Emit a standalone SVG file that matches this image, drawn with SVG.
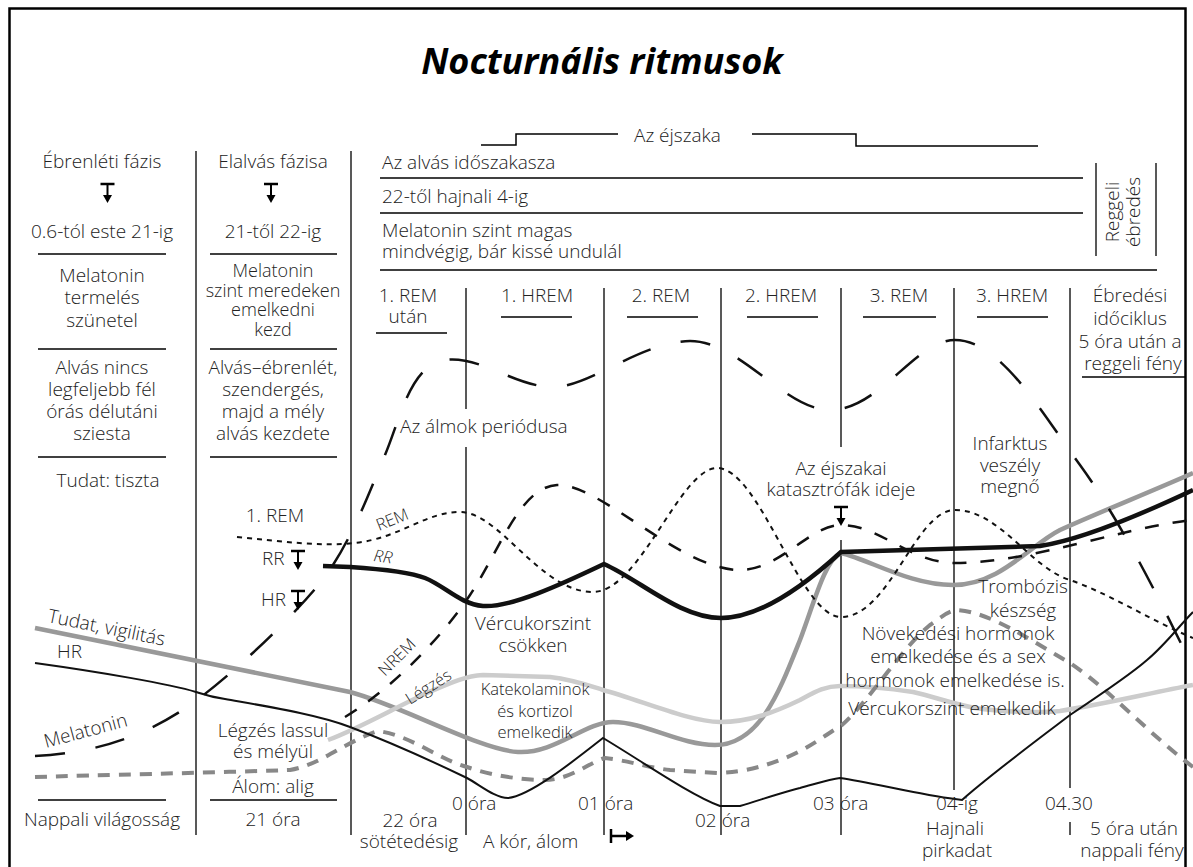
<svg xmlns="http://www.w3.org/2000/svg" xmlns:xlink="http://www.w3.org/1999/xlink" width="1193" height="867" viewBox="0 0 1193 867">
<defs>
<style>
text{font-family:"Open Sans","DejaVu Sans",sans-serif;font-size:19px;font-weight:300;fill:#222}
.c{text-anchor:middle}
.s{font-size:16.5px}
.t{font-size:18px}
.ln{stroke:#000;stroke-width:1.5;fill:none}
.vl{stroke:#222;stroke-width:1.5;fill:none}
.crv{fill:none;stroke-linecap:butt}
</style>
<g id="tarrow">
<line x1="-7" y1="0" x2="7" y2="0" stroke="#000" stroke-width="2.5"/>
<line x1="0" y1="0" x2="0" y2="12" stroke="#000" stroke-width="2"/>
<path d="M-4.5,11 L4.5,11 L0,19 Z" fill="#000"/>
</g>
</defs>
<rect x="0" y="0" width="1193" height="867" fill="#fff"/>
<rect x="9.5" y="8.5" width="1176" height="900" fill="none" stroke="#000" stroke-width="2.5"/>
<text x="602" y="74" class="c" style="font-size:36px;font-weight:bold;font-style:italic;fill:#000">Nocturnális ritmusok</text>

<g id="frame-lines">
<line class="vl" x1="196" y1="151" x2="196" y2="835"/>
<line class="vl" x1="351" y1="151" x2="351" y2="835"/>
<line class="vl" x1="466" y1="288" x2="466" y2="409"/>
<line class="vl" x1="466" y1="447" x2="466" y2="835"/>
<line class="vl" x1="604" y1="288" x2="604" y2="835"/>
<line class="vl" x1="721" y1="288" x2="721" y2="835"/>
<line class="vl" x1="841" y1="288" x2="841" y2="447"/>
<line class="vl" x1="841" y1="540" x2="841" y2="835"/>
<line class="vl" x1="954" y1="288" x2="954" y2="790"/>
<line class="vl" x1="1070" y1="288" x2="1070" y2="788"/>
<line class="vl" x1="1070" y1="822" x2="1070" y2="835"/>
<line class="vl" x1="1096" y1="163" x2="1096" y2="256"/>
<line class="vl" x1="1156" y1="163" x2="1156" y2="256"/>
<line class="ln" x1="380" y1="178" x2="1083" y2="178"/>
<line class="ln" x1="380" y1="213" x2="1083" y2="213"/>
<line class="ln" x1="380" y1="270" x2="1157" y2="270"/>
<path class="ln" d="M481,145 H516 V134 H618 M752,134 H856 V146 H1038"/>
<line class="ln" x1="38" y1="254" x2="166" y2="254"/>
<line class="ln" x1="210" y1="254" x2="337" y2="254"/>
<line class="ln" x1="38" y1="349" x2="166" y2="349"/>
<line class="ln" x1="210" y1="349" x2="337" y2="349"/>
<line class="ln" x1="38" y1="457" x2="166" y2="457"/>
<line class="ln" x1="210" y1="457" x2="337" y2="457"/>
<line class="ln" x1="38" y1="800" x2="166" y2="800"/>
<line class="ln" x1="210" y1="800" x2="337" y2="800"/>
<line class="ln" x1="376" y1="333" x2="447" y2="333"/>
<line class="ln" x1="501" y1="317" x2="572" y2="317"/>
<line class="ln" x1="627" y1="317" x2="698" y2="317"/>
<line class="ln" x1="747" y1="317" x2="818" y2="317"/>
<line class="ln" x1="863" y1="317" x2="936" y2="317"/>
<line class="ln" x1="977" y1="317" x2="1048" y2="317"/>
<line class="ln" x1="1082" y1="377" x2="1185" y2="377"/>
</g>

<g id="connectors">
<path class="crv" stroke="#999" stroke-width="4.5" d="M35,628 L350,692 C400,705 480,750 518,752 C555,754 585,722 613,722 C645,722 680,745 715,745 C760,745 780,690 800,640 C815,600 825,560 841,553 C870,560 910,585 953,585 C1000,585 1030,545 1060,530 C1100,512 1150,492 1193,473"/>
<path class="crv" stroke="#ccc" stroke-width="4.5" d="M328,740 C360,728 400,705 427,693 C450,683 465,676 483,675 L550,677 C575,680 590,686 603,690 C640,700 690,722 720,722 C750,722 775,712 800,700 C815,692 825,686 840,686 C870,686 900,690 913,692 C935,697 950,703 975,708 C1000,712 1040,713 1060,711 C1110,703 1150,693 1193,685"/>
<path class="crv" stroke="#888" stroke-width="4" stroke-dasharray="12 9" d="M35,777 C100,775 200,773 290,770 C320,765 345,742 378,731 C410,735 440,760 467,767 C490,775 520,780 545,780 C570,780 590,762 605,758 C625,760 650,768 670,770 L717,773 C745,772 765,766 785,758 C810,748 825,735 842,725 C870,700 900,650 930,625 C940,618 948,611 957,610 C990,612 1030,640 1070,663 C1110,690 1150,735 1193,767"/>
<path class="crv" stroke="#111" stroke-width="2" d="M35,663 C100,672 170,684 196,692 C205,695 210,697 225,699 C270,707 320,715 350,727 C390,742 440,765 467,778 C480,785 495,798 508,798 C530,796 575,760 603,738 C640,760 690,795 720,806 L740,806 C760,800 790,790 800,788 C815,784 830,779 840,778 C870,782 920,795 955,799 L962,800 C990,775 1040,738 1070,715 C1100,695 1130,675 1147,660 C1165,645 1180,625 1193,612"/>
<path class="crv" stroke="#111" stroke-width="4.5" d="M323,566 L350,567 C380,569 410,572 425,578 C445,586 460,604 483,606 C510,608 560,585 604,564 C640,580 680,618 721,618 C760,618 805,585 841,552 L1040,546 C1080,540 1140,515 1193,490"/>
<path class="crv" stroke="#111" stroke-width="2" stroke-dasharray="5 5" d="M237,537 C280,541 320,547 355,543 C400,538 425,512 460,512 C500,512 540,592 593,592 C640,592 680,468 717,468 C760,468 800,617 841,617 C890,617 915,510 955,510 C1000,510 1030,568 1070,580 C1110,594 1150,620 1193,638"/>
<path class="crv" stroke="#111" stroke-width="2.5" stroke-dasharray="14 14" d="M345,717 C390,690 440,640 470,595 C500,550 520,487 557,485 C600,483 680,570 740,570 C780,570 810,525 841,525 C880,525 910,563 955,563 C1030,563 1120,528 1193,520"/>
<path class="crv" stroke="#111" stroke-width="2.5" stroke-dasharray="30 31" d="M35,756 C100,753 150,733 190,705 C230,677 290,620 320,583 C350,546 370,490 385,455 C400,420 410,365 445,360 C480,355 515,387 553,387 C590,387 640,342 690,341 C740,341 785,410 830,410 C880,410 915,340 955,340 C1000,340 1040,410 1080,465 C1120,520 1160,600 1193,668"/>
</g>

<g id="col1">
<text x="102" y="168" class="c">Ébrenléti fázis</text>
<use xlink:href="#tarrow" x="107.5" y="184"/>
<text x="102" y="238" class="c">0.6-tól este 21-ig</text>
<text x="102" y="282" class="c">Melatonin</text>
<text x="102" y="304" class="c">termelés</text>
<text x="102" y="327" class="c">szünetel</text>
<text x="102" y="374" class="c">Alvás nincs</text>
<text x="102" y="396" class="c">legfeljebb fél</text>
<text x="102" y="418" class="c">órás délutáni</text>
<text x="102" y="440" class="c">sziesta</text>
<text x="108" y="487" class="c">Tudat: tiszta</text>
<text x="102" y="826" class="c">Nappali világosság</text>
</g>

<g id="col2">
<text x="273" y="168" class="c">Elalvás fázisa</text>
<use xlink:href="#tarrow" x="271" y="184"/>
<text x="273" y="238" class="c">21-től 22-ig</text>
<text x="273" y="277" class="c t">Melatonin</text>
<text x="273" y="297" class="c t">szint meredeken</text>
<text x="273" y="316" class="c t">emelkedni</text>
<text x="273" y="336" class="c t">kezd</text>
<text x="273" y="374" class="c">Alvás–ébrenlét,</text>
<text x="273" y="396" class="c">szendergés,</text>
<text x="273" y="418" class="c">majd a mély</text>
<text x="273" y="440" class="c">alvás kezdete</text>
<text x="275" y="522" class="c">1. REM</text>
<text x="262" y="565">RR</text>
<use xlink:href="#tarrow" x="298" y="551"/>
<text x="261" y="606">HR</text>
<use xlink:href="#tarrow" x="298" y="591"/>
<text x="273" y="737" class="c">Légzés lassul</text>
<text x="273" y="758" class="c">és mélyül</text>
<text x="273" y="793" class="c">Álom: alig</text>
<text x="273" y="826" class="c">21 óra</text>
</g>

<g id="top-block">
<text x="634" y="142">Az éjszaka</text>
<text x="382" y="169">Az alvás időszakasza</text>
<text x="382" y="203">22-től hajnali 4-ig</text>
<text x="382" y="237">Melatonin szint magas</text>
<text x="382" y="258">mindvégig, bár kissé undulál</text>
<text transform="translate(1119,212) rotate(-90)" class="c">Reggeli</text>
<text transform="translate(1140,212) rotate(-90)" class="c">ébredés</text>
</g>

<g id="phase-labels">
<text x="408" y="302" class="c">1. REM</text>
<text x="408" y="323" class="c">után</text>
<text x="537" y="302" class="c">1. HREM</text>
<text x="661" y="302" class="c">2. REM</text>
<text x="781" y="302" class="c">2. HREM</text>
<text x="899" y="302" class="c">3. REM</text>
<text x="1012" y="302" class="c">3. HREM</text>
<text x="1130" y="302" class="c">Ébredési</text>
<text x="1130" y="325" class="c">időciklus</text>
<text x="1130" y="348" class="c">5 óra után a</text>
<text x="1133" y="370" class="c">reggeli fény</text>
</g>

<g id="chart-labels">
<text x="400" y="433">Az álmok periódusa</text>
<text x="841" y="475" class="c">Az éjszakai</text>
<text x="841" y="496" class="c">katasztrófák ideje</text>
<use xlink:href="#tarrow" x="841" y="507"/>
<text x="1010" y="450" class="c">Infarktus</text>
<text x="1010" y="472" class="c">veszély</text>
<text x="1010" y="493" class="c">megnő</text>
<text x="533" y="630" class="c">Vércukorszint</text>
<text x="533" y="652" class="c">csökken</text>
<text x="1023" y="593" class="c">Trombózis</text>
<text x="1023" y="617" class="c">készség</text>
<text x="958" y="640" class="c">Növekedési hormonok</text>
<text x="958" y="663" class="c">emelkedése és a sex</text>
<text x="955" y="687" class="c">hormonok emelkedése is.</text>
<text x="952" y="715" class="c">Vércukorszint emelkedik</text>
<text x="535" y="695" class="c s">Katekolaminok</text>
<text x="535" y="717" class="c s">és kortizol</text>
<text x="535" y="738" class="c s">emelkedik</text>
<text transform="translate(47,622) rotate(11.5)">Tudat, vigilitás</text>
<text x="57" y="658">HR</text>
<text transform="translate(46,748) rotate(-15)">Melatonin</text>
<text transform="translate(379,531) rotate(-22)" class="s">REM</text>
<text transform="translate(373,561) rotate(8)" class="s" style="font-style:italic">RR</text>
<text transform="translate(385,677) rotate(-45)" class="s">NREM</text>
<text transform="translate(410,705) rotate(-32)" class="s">Légzés</text>
</g>

<g id="time-axis">
<text x="410" y="827" class="c">22 óra</text>
<text x="409" y="848" class="c">sötétedésig</text>
<text x="452" y="810">0 óra</text>
<text x="578" y="810">01 óra</text>
<text x="483" y="848">A kór, álom</text>
<path d="M611,829 V843 M611,836 H627" stroke="#000" stroke-width="2.5" fill="none"/>
<path d="M626,831 L634,836 L626,841 Z" fill="#000"/>
<text x="695" y="827">02 óra</text>
<text x="813" y="810">03 óra</text>
<text x="957" y="810" class="c">04-ig</text>
<text x="955" y="835" class="c">Hajnali</text>
<text x="957" y="857" class="c">pirkadat</text>
<text x="1045" y="810">04.30</text>
<text x="1134" y="835" class="c">5 óra után</text>
<text x="1132" y="857" class="c">nappali fény</text>
</g>
</svg>
